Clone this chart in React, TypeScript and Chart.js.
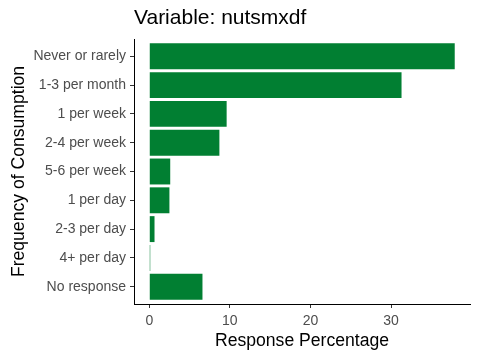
import React, { useEffect, useRef } from "react";
import { Chart, registerables } from "chart.js";

Chart.register(...registerables);

const categories: string[] = [
  "Never or rarely",
  "1-3 per month",
  "1 per week",
  "2-4 per week",
  "5-6 per week",
  "1 per day",
  "2-3 per day",
  "4+ per day",
  "No response",
];
const responsePct: number[] = [37.9, 31.3, 9.6, 8.7, 2.6, 2.5, 0.65, 0.12, 6.6];
const xTickValues: number[] = [0, 10, 20, 30];
const titleText = "Variable: nutsmxdf";
const xTitle = "Response Percentage";
const yTitle = "Frequency of Consumption";

const FONT = "'Liberation Sans', Arial, sans-serif";
const BAR_COLOR = "#017F32";

export default function App() {
  const canvasRef = useRef<HTMLCanvasElement | null>(null);

  useEffect(() => {
    if (!canvasRef.current) return;
    const dataMax = Math.max(...responsePct);
    const chart = new Chart(canvasRef.current, {
      type: "bar",
      data: {
        datasets: [
          {
            data: responsePct.map((v, i) => ({ x: v, y: i })),
            backgroundColor: BAR_COLOR,
            borderWidth: 0,
            barPercentage: 0.9,
            categoryPercentage: 1,
          },
        ],
      },
      options: {
        indexAxis: "y",
        responsive: false,
        animation: false,
        devicePixelRatio: 1,
        layout: { padding: { left: 0, right: 10, top: 0, bottom: 0 } },
        plugins: {
          legend: { display: false },
          tooltip: { enabled: false },
          title: {
            display: true,
            text: titleText,
            align: "start",
            fullSize: false,
            color: "#000000",
            font: { family: FONT, size: 21, weight: "normal", lineHeight: 1.2 },
            padding: { top: 6, bottom: 7.8 },
          },
        },
        scales: {
          x: {
            type: "linear",
            min: -0.05 * dataMax,
            max: 1.05 * dataMax,
            afterBuildTicks: (scale: any) => {
              scale.ticks = xTickValues.map((v) => ({ value: v }));
            },
            afterFit: (scale: any) => {
              scale.height = 56;
            },
            grid: {
              display: true,
              drawOnChartArea: false,
              drawTicks: true,
              tickLength: 4,
              tickColor: "#333333",
              tickWidth: 1,
            },
            border: { display: true, color: "#000000", width: 1 },
            ticks: {
              color: "#4D4D4D",
              font: { family: FONT, size: 14 },
              padding: 5,
            },
            title: {
              display: true,
              text: xTitle,
              color: "#000000",
              font: { family: FONT, size: 17.6, lineHeight: 1.2 },
              padding: { top: 0, bottom: 8 },
            },
          },
          y: {
            type: "linear",
            reverse: true,
            offset: false,
            min: -0.6,
            max: categories.length - 1 + 0.6,
            afterBuildTicks: (scale: any) => {
              scale.ticks = categories.map((_, i) => ({ value: i }));
            },
            afterFit: (scale: any) => {
              scale.width = 134;
            },
            grid: {
              display: true,
              offset: false,
              drawOnChartArea: false,
              drawTicks: true,
              tickLength: 4,
              tickColor: "#333333",
              tickWidth: 1,
            },
            border: { display: true, color: "#000000", width: 1 },
            ticks: {
              color: "#4D4D4D",
              font: { family: FONT, size: 14 },
              padding: 4,
              autoSkip: false,
              callback: (value: any) => categories[Math.round(Number(value))] ?? "",
            },
            title: {
              display: true,
              text: yTitle,
              color: "#000000",
              font: { family: FONT, size: 17.6, lineHeight: 1.2 },
              padding: { top: 8.4, bottom: 0 },
            },
          },
        },
      },
    } as any);
    return () => chart.destroy();
  }, []);

  return (
    <div style={{ position: "absolute", left: 0, top: 0, width: 480, height: 360, background: "#ffffff" }}>
      <canvas ref={canvasRef} width={480} height={360} />
    </div>
  );
}
